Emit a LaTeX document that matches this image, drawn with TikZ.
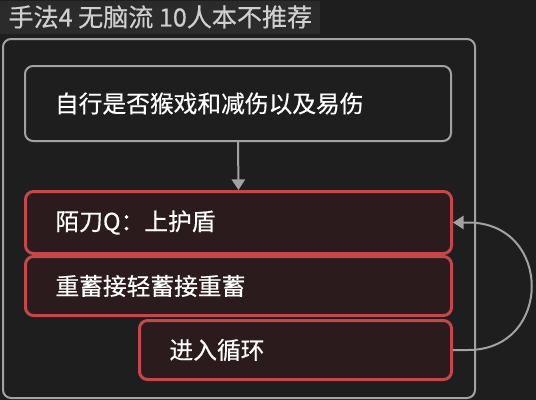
\documentclass[tikz,border=0pt]{standalone}
\usepackage{fontspec}
\setmainfont{Noto Sans CJK SC}[FakeBold=0.5]
\usetikzlibrary{arrows.meta,calc}

\definecolor{bgdark}{HTML}{1E1E1E}
\definecolor{bandgray}{HTML}{2B2B2B}
\definecolor{framegray}{HTML}{A2A2A2}
\definecolor{titlegray}{HTML}{CFCFCF}
\definecolor{stepred}{HTML}{C4474B}
\definecolor{stepfill}{HTML}{2C1B1C}

\tikzset{every picture/.style={line width=0.75pt}}
\tikzset{
  plainbox/.style={draw=framegray, fill=bgdark, line width=1.5pt, rounded corners=6pt, anchor=north west,
    inner xsep=22.5pt, align=left, text=white, font=\fontsize{17.8pt}{20pt}\selectfont},
  redbox/.style={plainbox, draw=stepred, fill=stepfill, line width=2.25pt},
  flow/.style={draw=framegray, line width=1.5pt, -{Triangle[width=10pt,length=8pt]}}
}

\begin{document}
\begin{tikzpicture}[x=0.75pt,y=0.75pt,yscale=-1,xscale=1]
        %background
        \fill[bgdark] (0,0) rectangle (536,400);
        \useasboundingbox (0,0) rectangle (536,400);

        % Title band
        \node (title) [anchor=north west, fill=bandgray, inner xsep=6pt, inner ysep=0pt, minimum height=24.75pt,
          text=titlegray, font=\fontsize{18.8pt}{20pt}\selectfont] at (0,0) {手法4 无脑流 10人本不推荐};
        % Outer frame
        \draw[framegray, line width=1.5pt, rounded corners=6pt] (3,39) rectangle (475,398);

        % Steps
        \node (check) [plainbox, text width=274.5pt, minimum height=56.25pt] at (24,65) {自行是否猴戏和减伤以及易伤};
        \node (shield) [redbox, text width=274.5pt, minimum height=46.5pt] at (24,190) {陌刀Q：上护盾};
        \node (charge) [redbox, text width=274.5pt, minimum height=44.25pt] at (24,255) {重蓄接轻蓄接重蓄};
        \node (loop) [redbox, text width=189pt, minimum height=44.25pt] at (138,319) {进入循环};

        % Connectors
        \draw[flow] (check.south) -- (shield.north);
        \draw[flow] (loop.east) -- ++(15,0) .. controls +(85,0) and ($(shield.east)+(100,0)$) .. ($(shield.east)+(15,0)$) -- (shield.east);

\end{tikzpicture}
\end{document}
